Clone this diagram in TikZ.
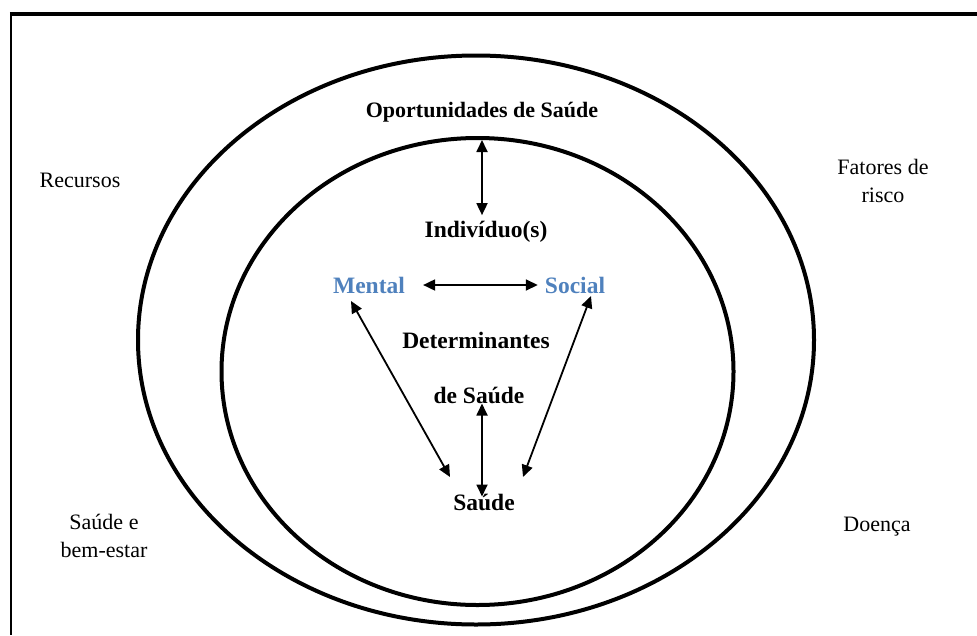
\documentclass[tikz,border=0pt]{standalone}
\usepackage{fontspec}
\setmainfont{Liberation Serif}
\usetikzlibrary{arrows.meta}
\definecolor{azul}{HTML}{4F81BD}

\tikzset{
 rotulo/.style={font=\fontsize{22}{28}\selectfont, align=center, inner sep=0pt},
 titulo/.style={font=\fontsize{23.5}{28}\selectfont\bfseries, inner sep=0pt},
 seta/.style={line width=1.8pt, {Triangle[length=12pt,width=11pt]}-{Triangle[length=12pt,width=11pt]}},
}

\begin{document}
\begin{tikzpicture}[x=1pt,y=-1pt]
 \useasboundingbox (0,0) rectangle (977,635);
 \draw[line width=3.7pt] (9.8,14) -- (977,14); %moldura superior
 \draw[line width=2.3pt] (11,12.2) -- (11,635); %moldura esquerda
 \draw[line width=4pt] (476,340) ellipse [x radius=338, y radius=284.5]; %elipse externa
 \draw[line width=4pt] (477.5,371.5) ellipse [x radius=256, y radius=233.5]; %elipse interna
 \coordinate (itop) at (482,140); %topo da elipse interna
 \node[titulo, font=\fontsize{22}{26}\selectfont\bfseries] (oport) at (482,112) {Oportunidades de Saúde};
 \node[titulo] (ind) at (486,232) {Indivíduo(s)};
 \node[titulo, text=azul] (mental) at (369,285) {Mental};
 \node[titulo, text=azul] (social) at (575,285) {Social};
 \node[titulo] (det) at (476,340) {Determinantes};
 \node[titulo] (desaude) at (479,395) {de Saúde};
 \node[titulo] (saude) at (484,502) {Saúde};
 \node[rotulo] (recursos) at (80,180) {Recursos};
 \node[rotulo] (fatores) at (883,181) {Fatores de\\risco};
 \node[rotulo] (bemestar) at (104,536) {Saúde e\\bem-estar};
 \node[rotulo] (doenca) at (877,527) {Doença};
 \coordinate (mentalTip) at (351,301); %ponta junto a Mental
 \coordinate (saudeL) at (450,477); %ponta esquerda junto a Saúde
 \coordinate (socialTip) at (591,296); %ponta junto a Social
 \coordinate (saudeR) at (523,477); %ponta direita junto a Saúde
 \draw[seta, shorten >=6pt] (itop) -- (itop |- ind.north); %oportunidades-indivíduo
 \draw[seta, shorten <=18pt, shorten >=7pt] (mental.east) -- (social.west); %mental-social
 \draw[seta] (mentalTip) -- (saudeL); %mental-saúde
 \draw[seta] (socialTip) -- (saudeR); %social-saúde
 \draw[seta, shorten >=-3pt] (desaude.south -| itop) -- (saude.north -| itop); %determinantes-saúde
\end{tikzpicture}
\end{document}
